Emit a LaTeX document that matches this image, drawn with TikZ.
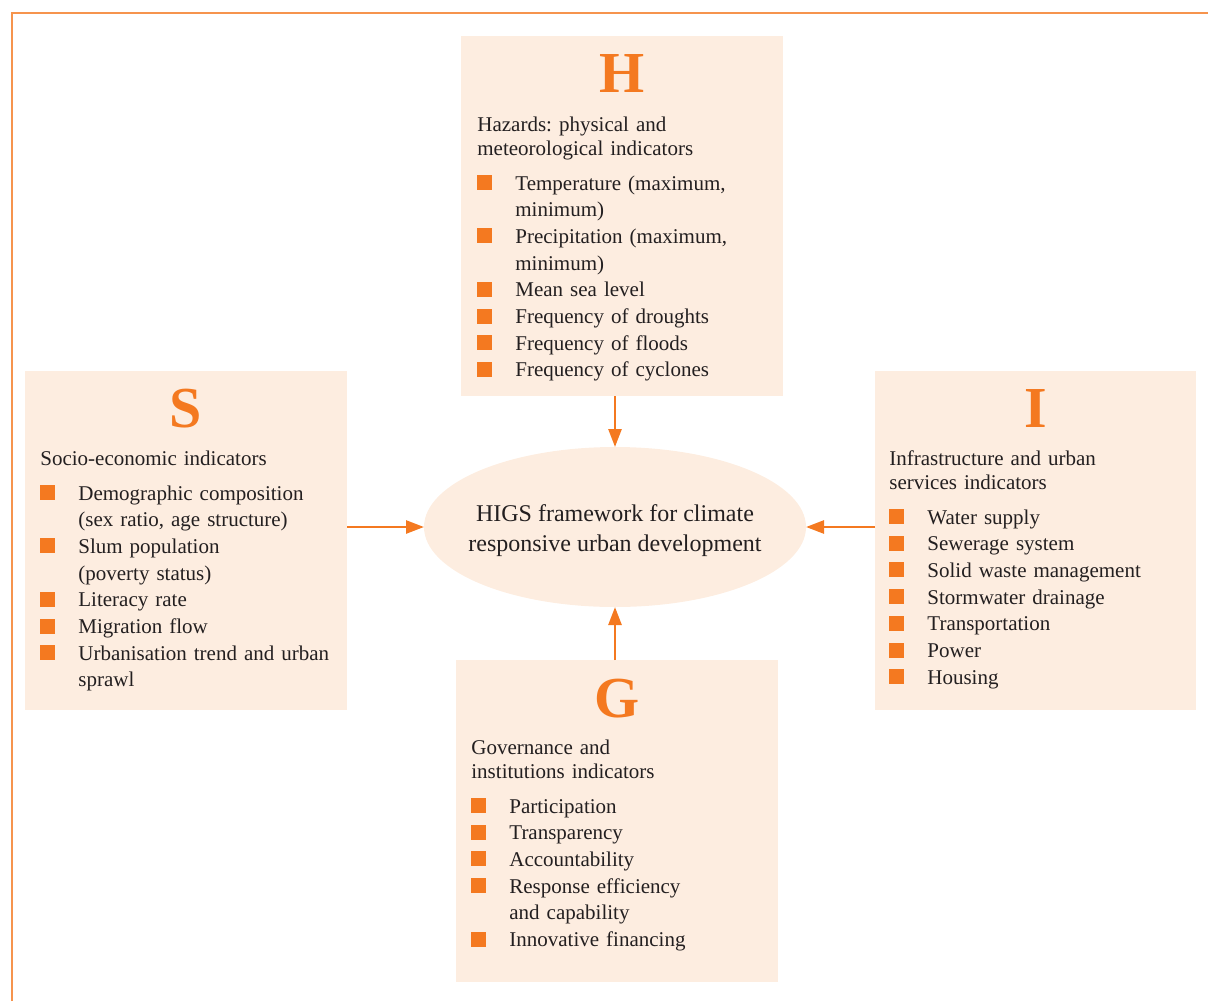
\documentclass[tikz,border=0pt]{standalone}
\usepackage{fontspec}
\setmainfont{Liberation Serif}
\usepackage{xcolor}
\definecolor{higsOrange}{HTML}{F47920}
\definecolor{higsFill}{HTML}{FDEDE0}
\definecolor{higsText}{HTML}{231F20}
\usetikzlibrary{arrows.meta, shapes.geometric, calc}
\frenchspacing
\tikzset{
  panel/.style={fill=higsFill, minimum width=161pt, inner sep=0pt, outer sep=0pt},
  letter/.style={anchor=base, text=higsOrange, font=\fontsize{29pt}{29pt}\selectfont\bfseries},
  body/.style={anchor=base west, inner sep=0pt, text width=175pt, text=higsText, font=\fontsize{10.5pt}{13.35pt}\selectfont},
  hub/.style={ellipse, fill=higsFill, minimum width=191pt, minimum height=80pt, inner sep=0pt, outer sep=0pt},
  hubtext/.style={align=center, yshift=-2pt, text=higsText, font=\fontsize{12pt}{15pt}\selectfont},
  feed/.style={->, higsOrange, line width=1.3pt},
  frame/.style={draw=higsOrange!80, line width=1pt}
}
% heading and bullet lines inside the panels
\newcommand{\boxhead}[1]{{\fontsize{10.5pt}{12pt}\selectfont\noindent#1\par}\vspace{4.15pt}}
\newcommand{\indic}[1]{\par{\hangindent=19pt\hangafter=1\noindent\makebox[19pt][l]{\textcolor{higsOrange}{\rule{7.5pt}{7.5pt}}}#1\par}}

\begin{document}
\begin{tikzpicture}[x=0.5pt, y=-0.5pt, >={Triangle[length=9pt,width=6.5pt]}]
\useasboundingbox (0,0) rectangle (1208,1001);
\draw[frame] (12,1001) |- (1208,13);

\node[panel, minimum height=180pt] (H) at (622,216) {};
\node[panel, minimum height=169.5pt] (S) at (186,540.5) {};
\node[panel, minimum height=169.5pt, minimum width=160.5pt] (I) at (1035.5,540.5) {};
\node[panel, minimum height=161pt] (G) at (617,821) {};
\node[hub, label={[hubtext]center:HIGS framework for climate\\responsive urban development}] (hub) at (615,527) {};

\node[letter] (H-letter) at ($(H.north)+(0,56)$) {H};
\node[letter] (S-letter) at ($(S.north)+(0,56)$) {S};
\node[letter] (I-letter) at ($(I.north)+(0,56)$) {I};
\node[letter] (G-letter) at ($(G.north)+(0,57)$) {G};

\node[body] (H-list) at ($(H.north west)+(16,95)$) {\boxhead{Hazards: physical and\newline meteorological indicators}
  \indic{Temperature (maximum,\newline minimum)}
  \indic{Precipitation (maximum,\newline minimum)}
  \indic{Mean sea level}
  \indic{Frequency of droughts}
  \indic{Frequency of floods}
  \indic{Frequency of cyclones}};
\node[body] (S-list) at ($(S.north west)+(15,94)$) {\boxhead{Socio-economic indicators}
  \indic{Demographic composition\newline (sex ratio, age structure)}
  \indic{Slum population\newline (poverty status)}
  \indic{Literacy rate}
  \indic{Migration flow}
  \indic{Urbanisation trend and urban\newline sprawl}};
\node[body] (I-list) at ($(I.north west)+(14,94)$) {\boxhead{Infrastructure and urban\newline services indicators}
  \indic{Water supply}
  \indic{Sewerage system}
  \indic{Solid waste management}
  \indic{Stormwater drainage}
  \indic{Transportation}
  \indic{Power}
  \indic{Housing}};
\node[body] (G-list) at ($(G.north west)+(15,94)$) {\boxhead{Governance and\newline institutions indicators}
  \indic{Participation}
  \indic{Transparency}
  \indic{Accountability}
  \indic{Response efficiency\newline and capability}
  \indic{Innovative financing}};

\draw[feed] (H.south -| hub) -- (hub.north);
\draw[feed] (S.east |- hub) -- (hub.west);
\draw[feed] (I.west |- hub) -- (hub.east);
\draw[feed] (G.north -| hub) -- (hub.south);
\end{tikzpicture}
\end{document}
